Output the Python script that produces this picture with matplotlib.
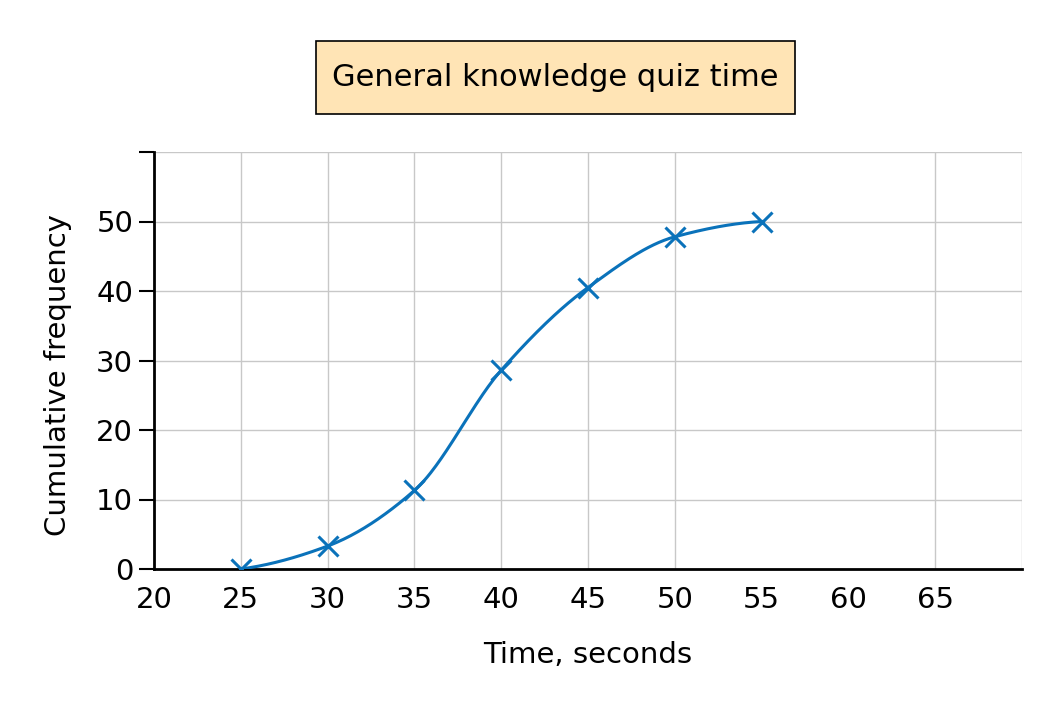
import numpy as np
import matplotlib.pyplot as plt
from matplotlib.patches import FancyBboxPatch

# Cumulative frequency data
times = [25, 30, 35, 40, 45, 50, 55]
cum_freq = [0, 3.3, 11.3, 28.6, 40.5, 47.8, 50]

x_ticks = [20, 25, 30, 35, 40, 45, 50, 55, 60, 65]
y_ticks = [0, 10, 20, 30, 40, 50]
grid_x = [25, 30, 35, 40, 45, 50, 65, 70]   # 55 and 60 have no gridline in the original
grid_y = [10, 20, 30, 40, 50, 60]

BLUE = '#0A72BA'


# monotone cubic (Fritsch-Carlson) so the curve goes through every point
def pchip(x, y, xs):
    x = np.asarray(x, float)
    y = np.asarray(y, float)
    h = np.diff(x)
    d = np.diff(y) / h
    m = np.zeros_like(y)
    for k in range(1, len(x) - 1):
        if d[k - 1] * d[k] > 0:
            w1 = 2 * h[k] + h[k - 1]
            w2 = h[k] + 2 * h[k - 1]
            m[k] = (w1 + w2) / (w1 / d[k - 1] + w2 / d[k])
    m[0] = d[0] * 0.5
    m[-1] = d[-1] * 0.3
    out = np.empty_like(xs)
    for i, xv in enumerate(xs):
        k = min(np.searchsorted(x, xv, side='right') - 1, len(x) - 2)
        t = (xv - x[k]) / h[k]
        h00 = 2 * t**3 - 3 * t**2 + 1
        h10 = t**3 - 2 * t**2 + t
        h01 = -2 * t**3 + 3 * t**2
        h11 = t**3 - t**2
        out[i] = h00 * y[k] + h10 * h[k] * m[k] + h01 * y[k + 1] + h11 * h[k] * m[k + 1]
    return out


fig = plt.figure(figsize=(10.63, 7.1), dpi=100)
ax = fig.add_axes([154 / 1063, 1 - 569 / 710, 868 / 1063, 417 / 710])

for gx in grid_x:
    ax.axvline(gx, color='#c8c8c8', lw=1, zorder=0)
for gy in grid_y:
    ax.axhline(gy, color='#c8c8c8', lw=1, zorder=0)

xs = np.linspace(times[0], times[-1], 300)
ax.plot(xs, pchip(times, cum_freq, xs), color=BLUE, lw=2.2, zorder=3)
ax.plot(times, cum_freq, 'x', color=BLUE, ms=15, mew=2.2, zorder=4)

ax.set_xlim(20, 70)
ax.set_ylim(0, 60)
ax.set_xticks(x_ticks)
ax.set_yticks(y_ticks + [60])
ax.set_yticklabels([str(v) for v in y_ticks] + [''])
ax.tick_params(axis='x', length=0, labelsize=21, pad=12)
ax.tick_params(axis='y', length=11, width=1.5, direction='out', labelsize=21, pad=4)

for side in ['top', 'right']:
    ax.spines[side].set_visible(False)
for side in ['left', 'bottom']:
    ax.spines[side].set_linewidth(2)
    ax.spines[side].set_color('black')

ax.set_xlabel('Time, seconds', fontsize=21, labelpad=20)
ax.set_ylabel('Cumulative frequency', fontsize=21)
ax.yaxis.set_label_coords(-0.095, 0.465)

# title box
box = FancyBboxPatch((316 / 1063, 1 - 114 / 710), 479 / 1063, 73 / 710,
                     boxstyle='square,pad=0', transform=fig.transFigure,
                     facecolor='#FFE4B5', edgecolor='black', lw=1.2)
fig.patches.append(box)
fig.text(555 / 1063, 1 - 78 / 710, 'General knowledge quiz time', fontsize=22,
         ha='center', va='center')

fig.savefig('out.png', dpi=100, facecolor='white')
